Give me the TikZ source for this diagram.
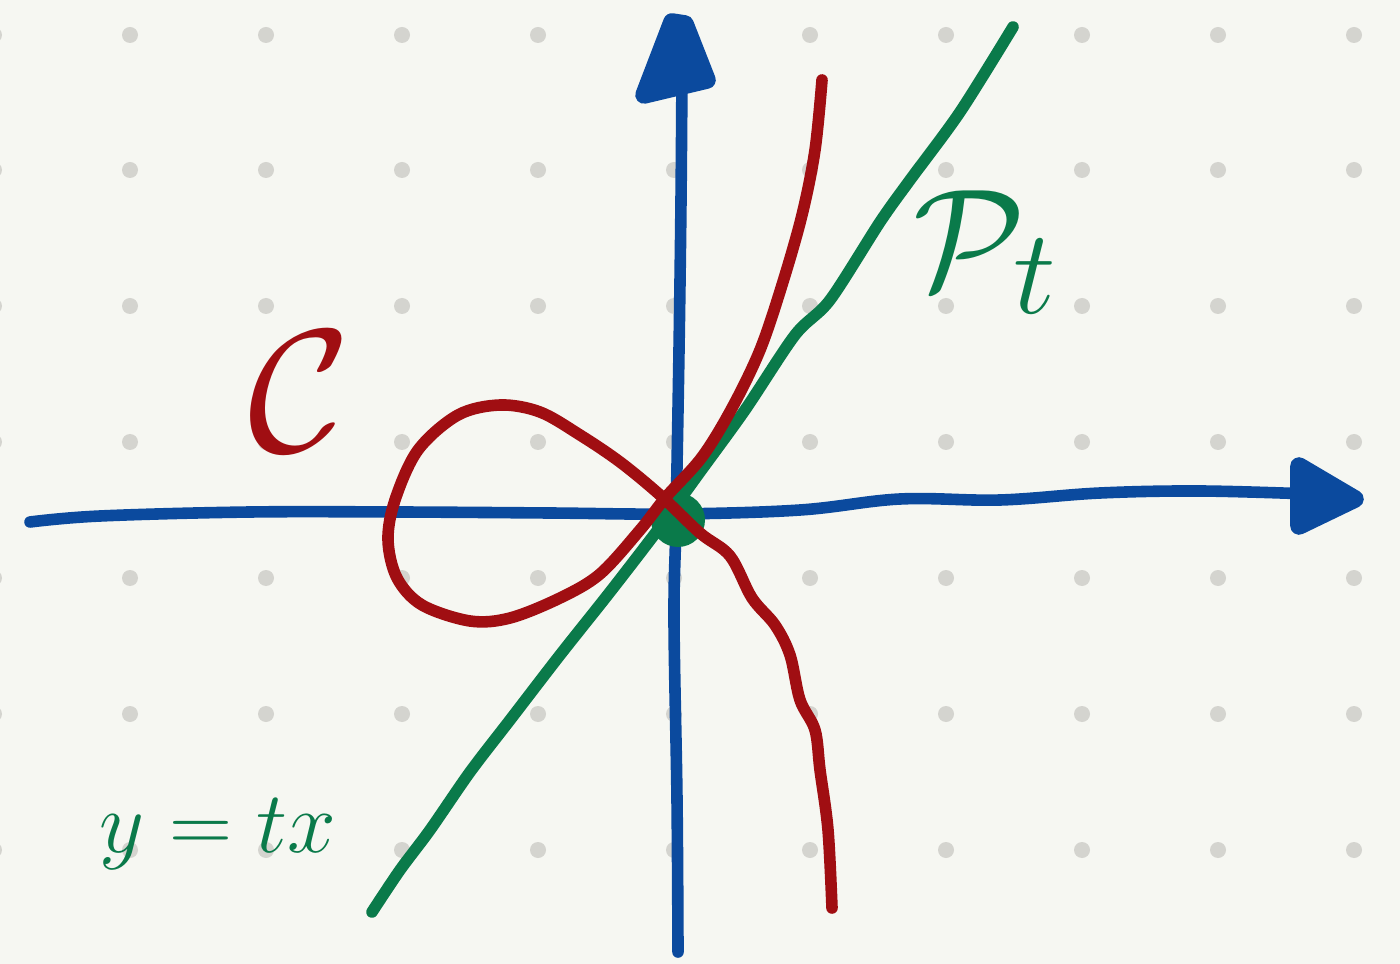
\documentclass[tikz,border=0pt]{standalone}
\usepackage{graphicx}
\usepackage{amsmath}
\definecolor{bg}{HTML}{F6F7F2}
\definecolor{dotc}{HTML}{D4D4CF}
\definecolor{axblue}{HTML}{0B4A9E}
\definecolor{cred}{HTML}{A00E12}
\definecolor{lgreen}{HTML}{0A7A4A}
\tikzset{
  pen/.style={line width=3.3pt, line cap=round, line join=round},
  axis/.style={pen, draw=axblue},
  curve/.style={pen, draw=cred},
  gline/.style={pen, draw=lgreen},
  tip/.style={fill=axblue, draw=axblue, line width=5pt, line join=round},
  lbl/.style={inner sep=0pt, font=\fontsize{24.88}{28}\selectfont}
}
\begin{document}
\begin{tikzpicture}[x=0.01cm,y=-0.01cm]
\fill[bg] (0,0) rectangle (1400,964);
\useasboundingbox (0,0) rectangle (1400,964);
% dot grid
\foreach \i in {-6,130,266,402,538,674,810,946,1082,1218,1354}
  \foreach \j in {35,170,306,442,578,714,850}
    \fill[dotc] (\i,\j) circle[radius=8];
% axes
\draw[axis] plot[smooth, tension=0.6] coordinates {(30,522) (100,516) (250,512) (400,512) (550,513) (674,514) (800,510) (900,499) (1000,500) (1100,493) (1200,491) (1310,494)};
\draw[axis] plot[smooth, tension=0.6] coordinates {(678,952) (677,800) (674,620) (676,520) (679,350) (681,200) (682,70)};
\filldraw[tip] (1299,466) -- (1355,499) -- (1299,526) -- cycle;
\filldraw[tip] (672,22) -- (685,24) -- (707,80) -- (644,95) -- cycle;
% green line
\draw[gline] plot[smooth, tension=0.5] coordinates {(372,912) (400,870) (430,830) (470,772) (510,720) (560,655) (610,592) (660,527) (700,472) (745,410) (795,335) (830,300) (880,222) (910,180) (960,112) (1013,27)};
\fill[lgreen] (678,520) circle[radius=27];
% red curve
\draw[curve] plot[smooth, tension=0.55] coordinates {(822,80) (815,150) (802,215) (782,285) (760,350) (732,408) (702,457) (666,497) (640,530) (600,574) (560,598) (510,618) (470,621) (422,605) (397,578) (388,540) (395,500) (418,450) (458,415) (500,405) (540,412) (580,435) (620,462) (660,495) (700,533) (730,556) (752,598) (775,625) (790,655) (800,700) (815,730) (820,770) (828,830) (832,908)};
% labels
\node[lbl, text=cred] (C) at (300,392) {\scalebox{2}{$\mathcal{C}$}};
\node[lbl, text=lgreen] (P) at (986,252) {\scalebox{1.65}{$\mathcal{P}_t$}};
\node[lbl, text=lgreen] (L) at (218,834) {$y=tx$};
\end{tikzpicture}
\end{document}
